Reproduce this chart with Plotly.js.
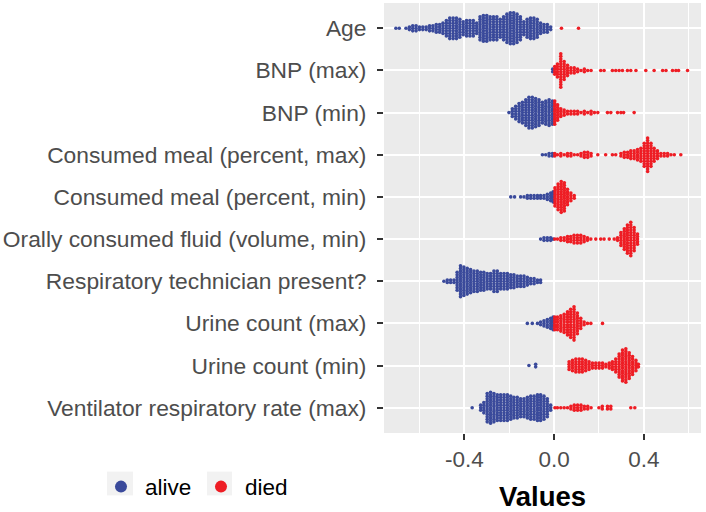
<!DOCTYPE html>
<html><head><meta charset="utf-8">
<script src="https://cdn.plot.ly/plotly-3.0.1.min.js"></script>
<style>html,body{margin:0;padding:0;background:#fff}</style>
</head><body><div id="chart" style="width:706px;height:512px"></div>
<script>
const features = ["Age","BNP (max)","BNP (min)","Consumed meal (percent, max)","Consumed meal (percent, min)","Orally consumed fluid (volume, min)","Respiratory technician present?","Urine count (max)","Urine count (min)","Ventilator respiratory rate (max)"];
const classNames = ["alive","died"];
const xTicks = [-0.4, 0.0, 0.4];
const xTickText = ["-0.4","0.0","0.4"];

// each entry: [value, number of points read at that value]
const ageAlive = [[-0.705,1],[-0.69,1],[-0.66,1],[-0.645,2],[-0.63,3],[-0.615,3],[-0.6,2],[-0.585,2],[-0.57,2],[-0.555,3],[-0.54,3],[-0.525,4],[-0.51,4],[-0.495,5],[-0.48,7],[-0.465,9],[-0.45,9],[-0.435,9],[-0.42,8],[-0.405,6],[-0.39,7],[-0.375,7],[-0.36,7],[-0.345,5],[-0.33,10],[-0.315,11],[-0.3,11],[-0.285,10],[-0.27,10],[-0.255,10],[-0.24,8],[-0.225,10],[-0.21,12],[-0.195,13],[-0.18,13],[-0.165,12],[-0.15,10],[-0.135,6],[-0.12,8],[-0.105,9],[-0.09,9],[-0.075,8],[-0.06,5],[-0.045,4],[-0.03,4],[-0.015,2]];
const ageDied = [[0.033,1],[0.109,1]];
const bnpMaxAlive = [[-0.006,2]];
const bnpMaxDied = [[0.003,4],[0.015,6],[0.03,14],[0.045,8],[0.06,5],[0.075,3],[0.09,3],[0.105,2],[0.12,1],[0.135,2],[0.15,1],[0.165,1],[0.208,1],[0.223,1],[0.26,1],[0.275,1],[0.29,1],[0.305,1],[0.327,1],[0.342,1],[0.365,1],[0.409,1],[0.446,1],[0.484,1],[0.499,1],[0.528,1],[0.543,1],[0.555,1],[0.595,1]];
const bnpMinAlive = [[-0.201,1],[-0.186,4],[-0.171,6],[-0.156,8],[-0.141,9],[-0.126,11],[-0.112,13],[-0.097,13],[-0.082,12],[-0.067,11],[-0.052,9],[-0.037,10],[-0.022,11],[-0.007,10]];
const bnpMinDied = [[0.003,10],[0.016,7],[0.03,4],[0.045,3],[0.06,2],[0.075,2],[0.09,2],[0.105,2],[0.12,1],[0.135,2],[0.15,1],[0.165,2],[0.18,1],[0.195,1],[0.238,1],[0.253,1],[0.283,1],[0.298,1],[0.31,1],[0.357,1]];
const mealMaxAlive = [[-0.052,1],[-0.037,1],[-0.022,2],[-0.007,2]];
const mealMaxDied = [[0.003,2],[0.015,1],[0.03,2],[0.045,1],[0.06,2],[0.075,2],[0.09,1],[0.105,1],[0.12,2],[0.135,3],[0.15,3],[0.165,2],[0.195,1],[0.23,1],[0.26,1],[0.275,1],[0.298,2],[0.313,3],[0.328,3],[0.342,4],[0.357,4],[0.372,5],[0.387,6],[0.402,10],[0.417,14],[0.432,10],[0.446,6],[0.461,4],[0.476,2],[0.491,2],[0.506,2],[0.521,1],[0.536,1],[0.565,1]];
const mealMinAlive = [[-0.193,1],[-0.176,1],[-0.149,1],[-0.134,1],[-0.119,2],[-0.104,2],[-0.089,2],[-0.074,2],[-0.06,2],[-0.045,2],[-0.03,3],[-0.015,4],[-0.004,5]];
const mealMinDied = [[0.004,8],[0.018,11],[0.032,13],[0.046,12],[0.06,7],[0.075,4],[0.09,2]];
const fluidAlive = [[-0.06,1],[-0.045,2],[-0.03,2],[-0.015,2],[-0.004,1]];
const fluidDied = [[0.003,1],[0.015,1],[0.03,2],[0.045,2],[0.06,3],[0.074,3],[0.089,4],[0.104,4],[0.119,4],[0.134,3],[0.149,2],[0.164,1],[0.186,1],[0.208,1],[0.223,1],[0.246,1],[0.268,1],[0.283,2],[0.298,6],[0.313,9],[0.327,12],[0.342,14],[0.357,10],[0.372,5]];
const respTechAlive = [[-0.491,1],[-0.476,2],[-0.461,2],[-0.446,2],[-0.432,8],[-0.417,13],[-0.402,12],[-0.387,11],[-0.372,10],[-0.357,9],[-0.342,9],[-0.327,8],[-0.313,8],[-0.298,7],[-0.283,7],[-0.268,9],[-0.253,9],[-0.238,7],[-0.223,7],[-0.208,7],[-0.193,6],[-0.179,6],[-0.164,5],[-0.149,5],[-0.134,5],[-0.119,4],[-0.104,3],[-0.089,3],[-0.074,2],[-0.06,2]];
const respTechDied = [];
const urineMaxAlive = [[-0.119,1],[-0.097,1],[-0.074,1],[-0.06,2],[-0.045,3],[-0.03,4],[-0.015,5],[-0.004,6]];
const urineMaxDied = [[0.003,6],[0.015,6],[0.03,7],[0.045,8],[0.06,10],[0.074,12],[0.089,14],[0.104,9],[0.119,5],[0.134,2],[0.149,1],[0.164,1],[0.216,1]];
const urineMinAlive = [[-0.112,1],[-0.082,2]];
const urineMinDied = [[0.067,4],[0.082,5],[0.097,6],[0.112,6],[0.126,6],[0.141,5],[0.156,4],[0.171,3],[0.186,3],[0.201,3],[0.216,3],[0.231,2],[0.246,3],[0.26,4],[0.275,6],[0.29,10],[0.305,13],[0.32,14],[0.335,11],[0.35,8],[0.365,5],[0.376,2]];
const ventAlive = [[-0.365,1],[-0.327,3],[-0.313,5],[-0.298,12],[-0.283,13],[-0.268,12],[-0.253,11],[-0.238,11],[-0.223,11],[-0.208,11],[-0.193,10],[-0.179,9],[-0.164,9],[-0.149,8],[-0.134,8],[-0.119,9],[-0.104,10],[-0.089,10],[-0.074,11],[-0.06,11],[-0.045,10],[-0.03,8],[-0.015,3]];
const ventDied = [[0.004,1],[0.015,1],[0.03,1],[0.045,1],[0.06,1],[0.075,2],[0.09,3],[0.105,3],[0.12,3],[0.135,2],[0.15,2],[0.165,1],[0.2,1],[0.215,2],[0.238,2],[0.253,2],[0.342,1],[0.36,1]];

const aliveRows = [ageAlive,bnpMaxAlive,bnpMinAlive,mealMaxAlive,mealMinAlive,fluidAlive,respTechAlive,urineMaxAlive,urineMinAlive,ventAlive];
const diedRows = [ageDied,bnpMaxDied,bnpMinDied,mealMaxDied,mealMinDied,fluidDied,respTechDied,urineMaxDied,urineMinDied,ventDied];

const DY = 0.061; // vertical spacing of stacked points (row units)
function swarm(rows){
  const xs=[], ys=[];
  rows.forEach((cols,row)=>{
    cols.forEach(([v,n])=>{
      for(let j=0;j<n;j++){ xs.push(v); ys.push(row + (j-(n-1)/2)*DY); }
    });
  });
  return {xs,ys};
}
const A = swarm(aliveRows), D = swarm(diedRows);
const FONT = "Liberation Sans, Arial, Helvetica, sans-serif";

const traces = [
  {type:'scatter',mode:'markers',name:classNames[0],x:A.xs,y:A.ys,marker:{color:'#3a4a9b',size:3.6,line:{width:0}},hoverinfo:'x'},
  {type:'scatter',mode:'markers',name:classNames[1],x:D.xs,y:D.ys,marker:{color:'#ee1d24',size:3.6,line:{width:0}},hoverinfo:'x'}
];

const px = (p)=> (p-384)/317, py = (p)=> (437-p)/434;
const layout = {
  width:706,height:512,
  margin:{l:384,r:5,t:3,b:75},
  paper_bgcolor:'#ffffff',plot_bgcolor:'#ebebeb',
  font:{family:FONT,color:'#4d4d4d',size:22.8},
  showlegend:true,
  legend:{orientation:'h',x:px(97),xanchor:'left',y:py(491.5),yanchor:'middle',
    font:{size:22.5,color:'#000000',family:FONT},itemsizing:'constant',itemwidth:38,
    entrywidth:47,entrywidthmode:'pixels',bgcolor:'rgba(0,0,0,0)',traceorder:'normal'},
  xaxis:{range:[-0.758,0.655],tickvals:xTicks,ticktext:xTickText,
    showgrid:true,gridcolor:'#ffffff',gridwidth:2,zeroline:false,
    minor:{dtick:0.2,tick0:0,showgrid:true,gridcolor:'#ffffff',gridwidth:1,ticks:''},
    ticks:'outside',ticklen:6,tickwidth:2,tickcolor:'#333333',
    tickfont:{size:22.5,color:'#4d4d4d',family:FONT},showline:false,
    title:{text:'<b>Values</b>',font:{size:27.5,color:'#000000',family:FONT},standoff:15}},
  yaxis:{range:[9.6,-0.6],tickvals:features.map((f,i)=>i),ticktext:features,
    showgrid:true,gridcolor:'#ffffff',gridwidth:2,zeroline:false,
    ticks:'outside',ticklen:6,tickwidth:2,tickcolor:'#333333',
    tickfont:{size:22.8,color:'#4d4d4d',family:FONT},showline:false,ticklabelstandoff:6},
  shapes:[
    {type:'rect',xref:'paper',yref:'paper',x0:px(107),x1:px(133),y0:py(500),y1:py(476),fillcolor:'#f2f2f2',line:{width:0}},
    {type:'rect',xref:'paper',yref:'paper',x0:px(207),x1:px(232),y0:py(500),y1:py(476),fillcolor:'#f2f2f2',line:{width:0}}
  ]
};
Plotly.newPlot('chart',traces,layout,{displayModeBar:false,staticPlot:false});
</script></body></html>
